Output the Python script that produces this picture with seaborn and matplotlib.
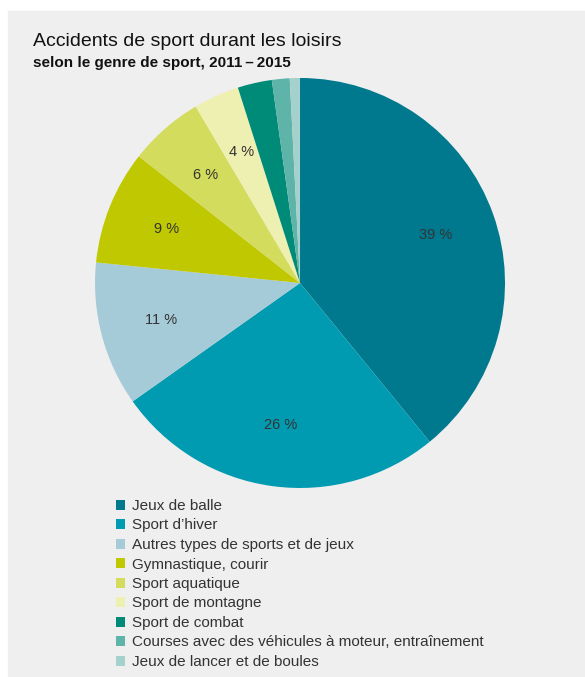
import matplotlib
matplotlib.use("Agg")
import numpy as np
import matplotlib.pyplot as plt
import seaborn as sns

# data
categories = [
    "Jeux de balle",
    "Sport d\u2019hiver",
    "Autres types de sports et de jeux",
    "Gymnastique, courir",
    "Sport aquatique",
    "Sport de montagne",
    "Sport de combat",
    "Courses avec des véhicules à moteur, entraînement",
    "Jeux de lancer et de boules",
]
shares = [39.1, 26.1, 11.4, 9.0, 5.9, 3.6, 2.7, 1.4, 0.8]
pct_labels = ["39 %", "26 %", "11 %", "9 %", "6 %", "4 %", "", "", ""]

colors = ["#00798f", "#009bb0", "#a6cbd8", "#bfc800", "#d3dc5c",
          "#eef0b2", "#008a78", "#5eb4a9", "#a4d1cc"]

sns.set_theme(style="white")
plt.rcParams["font.family"] = ["Liberation Sans", "DejaVu Sans"]
palette = sns.color_palette(colors)

bg = "#efefef"
fig = plt.figure(figsize=(5.85, 6.77), dpi=100)
fig.patch.set_facecolor("white")
fig.add_artist(plt.Rectangle((8 / 585, 0), 1, 1 - 11 / 677,
                             transform=fig.transFigure, color=bg, zorder=0))

ax = fig.add_axes([0.1624, 0.2792, 0.7009, 0.6056])
ax.set_facecolor("none")
wedges, _ = ax.pie(shares, colors=palette, startangle=90, counterclock=False,
                   radius=1, wedgeprops=dict(linewidth=0))
for w, lab in zip(wedges, pct_labels):
    if not lab:
        continue
    ang = np.deg2rad((w.theta1 + w.theta2) / 2)
    ax.text(0.7 * np.cos(ang), 0.7 * np.sin(ang), lab, ha="center",
            va="center", fontsize=10.5, color="#333333")
ax.set_xlim(-1, 1)
ax.set_ylim(-1, 1)
ax.set_aspect("equal")
ax.axis("off")

fig.text(33 / 585, 1 - 42 / 677, "Accidents de sport durant les loisirs",
         fontsize=14, color="#111111", va="center", ha="left")
fig.text(33 / 585, 1 - 63 / 677, "selon le genre de sport, 2011\u2009\u2013\u20092015",
         fontsize=11, fontweight="bold", color="#111111", va="center", ha="left")

leg = fig.legend(wedges, categories, loc="upper left",
                 bbox_to_anchor=(116 / 585, 1 - 499 / 677),
                 frameon=False, fontsize=11, handlelength=0.62,
                 handleheight=0.62, handletextpad=0.4, labelspacing=0.36,
                 borderpad=0, borderaxespad=0)
for t in leg.get_texts():
    t.set_color("#333333")

fig.savefig("out.png", dpi=100, facecolor=fig.get_facecolor())
